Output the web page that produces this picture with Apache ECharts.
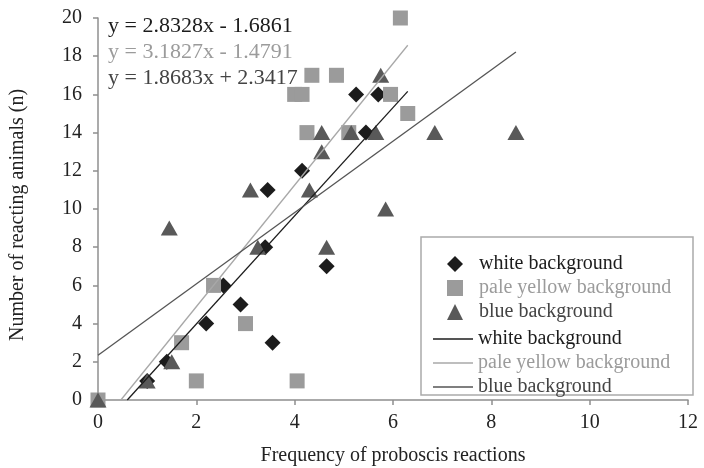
<!DOCTYPE html>
<html>
<head>
<meta charset="utf-8">
<script src="https://cdn.jsdelivr.net/npm/echarts@6/dist/echarts.min.js"></script>
<style>
  html, body { margin: 0; padding: 0; background: #fff; }
  #chart { width: 704px; height: 468px; }
</style>
</head>
<body>
<div id="chart"></div>
<script>
// point data
const whiteX = [1.0, 1.4, 2.2, 2.55, 2.9, 3.55, 3.4, 3.45, 4.15, 4.65, 5.45, 5.25, 5.7];
const whiteY = [1, 2, 4, 6, 5, 3, 8, 11, 12, 7, 14, 16, 16];

const paleX = [0, 1.7, 2.0, 2.35, 3.0, 4.05, 4.25, 5.1, 4.0, 4.15, 4.35, 4.85, 5.95, 6.3, 6.15];
const paleY = [0, 3, 1, 6, 4, 1, 14, 14, 16, 16, 17, 17, 16, 15, 20];

const blueX = [0, 1.0, 1.5, 1.45, 3.1, 3.25, 4.3, 4.55, 4.55, 5.15, 5.65, 5.75, 5.85, 4.65, 6.85, 8.5];
const blueY = [0, 1, 2, 9, 11, 8, 11, 13, 14, 14, 14, 17, 10, 8, 14, 14];

// trend lines: slope, intercept, x extent
const trendSlope = [2.8328, 3.1827, 1.8683];
const trendIntercept = [-1.6861, -1.4791, 2.3417];
const trendXMax = [6.3, 6.3, 8.5];
const equations = ['y = 2.8328x - 1.6861', 'y = 3.1827x - 1.4791', 'y = 1.8683x + 2.3417'];
const seriesNames = ['white background', 'pale yellow background', 'blue background'];

const xTicks = { min: 0, max: 12, interval: 2 };
const yTicks = { min: 0, max: 20, interval: 2 };

const FONT = 'Liberation Serif';
const pointColors = ['#1c1c1c', '#9b9b9b', '#595959'];
const lineColors = ['#1c1c1c', '#a8a8a8', '#555555'];
const textColors = ['#1c1c1c', '#9b9b9b', '#444444'];
const symbols = ['diamond', 'rect', 'triangle'];

function pairs(xs, ys) {
  return xs.map((x, i) => [x, ys[i]]);
}

function trendData(i) {
  const m = trendSlope[i], b = trendIntercept[i];
  const x0 = Math.max(0, -b / m);
  const x1 = trendXMax[i];
  return [[x0, m * x0 + b], [x1, m * x1 + b]];
}

const chart = echarts.init(document.getElementById('chart'));

const axisGray = '#8f8f8f';
const lineIcon = 'path://M0,0L40,0L40,1.4L0,1.4Z';

const option = {
  animation: false,
  textStyle: { fontFamily: FONT },
  grid: { left: 98, right: 16, top: 18, bottom: 68, outerBoundsMode: 'none' },
  xAxis: {
    type: 'value',
    min: xTicks.min, max: xTicks.max, interval: xTicks.interval,
    name: 'Frequency of proboscis reactions',
    nameLocation: 'middle',
    nameGap: 46,
    nameTextStyle: { fontFamily: FONT, fontSize: 20, color: '#222' },
    axisLine: { lineStyle: { color: axisGray, width: 1.5 } },
    axisTick: { show: true, length: 5, lineStyle: { color: axisGray, width: 1.5 } },
    axisLabel: { fontFamily: FONT, fontSize: 20, color: '#222', margin: 13 },
    splitLine: { show: false }
  },
  yAxis: {
    type: 'value',
    min: yTicks.min, max: yTicks.max, interval: yTicks.interval,
    name: 'Number of reacting animals (n)',
    nameLocation: 'middle',
    nameGap: 70,
    nameTextStyle: { fontFamily: FONT, fontSize: 20, color: '#222', padding: [0, 12, 0, 0] },
    axisLine: { show: true, lineStyle: { color: axisGray, width: 1.5 } },
    axisTick: { show: true, length: 5, lineStyle: { color: axisGray, width: 1.5 } },
    axisLabel: { fontFamily: FONT, fontSize: 20, color: '#222', margin: 16 },
    splitLine: { show: false }
  },
  legend: [
    {
      // marker entries
      orient: 'vertical',
      left: 442,
      top: 249,
      itemWidth: 16,
      itemHeight: 16,
      itemGap: 4,
      textStyle: { fontFamily: FONT, fontSize: 20, padding: [0, 0, 0, 11] },
      data: seriesNames.map((n, i) => ({ name: n, icon: symbols[i], textStyle: { color: textColors[i] } }))
    },
    {
      // trend line entries
      orient: 'vertical',
      left: 428,
      top: 324,
      itemWidth: 40,
      itemHeight: 16,
      itemGap: 4,
      textStyle: { fontFamily: FONT, fontSize: 20 },
      formatter: name => name.replace(' trend', ''),
      data: seriesNames.map((n, i) => ({ name: n + ' trend', icon: lineIcon, textStyle: { color: textColors[i] } }))
    }
  ],
  graphic: [
    {
      type: 'rect',
      shape: { x: 421, y: 237, width: 272, height: 158 },
      style: { fill: 'none', stroke: '#ababab', lineWidth: 1.5 },
      silent: true
    },
    ...equations.map((t, i) => ({
      type: 'text',
      left: 108,
      top: 15 + i * 26,
      style: { text: t, fontFamily: FONT, fontSize: 22, fill: textColors[i] },
      silent: true
    }))
  ],
  series: [
    {
      name: seriesNames[0], type: 'scatter', symbol: symbols[0], symbolSize: [16, 16],
      itemStyle: { color: pointColors[0], opacity: 1 },
      data: pairs(whiteX, whiteY), z: 3
    },
    {
      name: seriesNames[1], type: 'scatter', symbol: symbols[1], symbolSize: 15,
      itemStyle: { color: pointColors[1], opacity: 1 },
      data: pairs(paleX, paleY), z: 3
    },
    {
      name: seriesNames[2], type: 'scatter', symbol: symbols[2], symbolSize: [17, 15],
      itemStyle: { color: pointColors[2], opacity: 1 },
      data: pairs(blueX, blueY), z: 3
    },
    ...[0, 1, 2].map(i => ({
      name: seriesNames[i] + ' trend',
      type: 'line',
      symbol: 'none',
      showSymbol: false,
      lineStyle: { color: lineColors[i], width: 1.3 },
      itemStyle: { color: lineColors[i] },
      data: trendData(i),
      z: 4
    }))
  ]
};

chart.setOption(option);
</script>
</body>
</html>
